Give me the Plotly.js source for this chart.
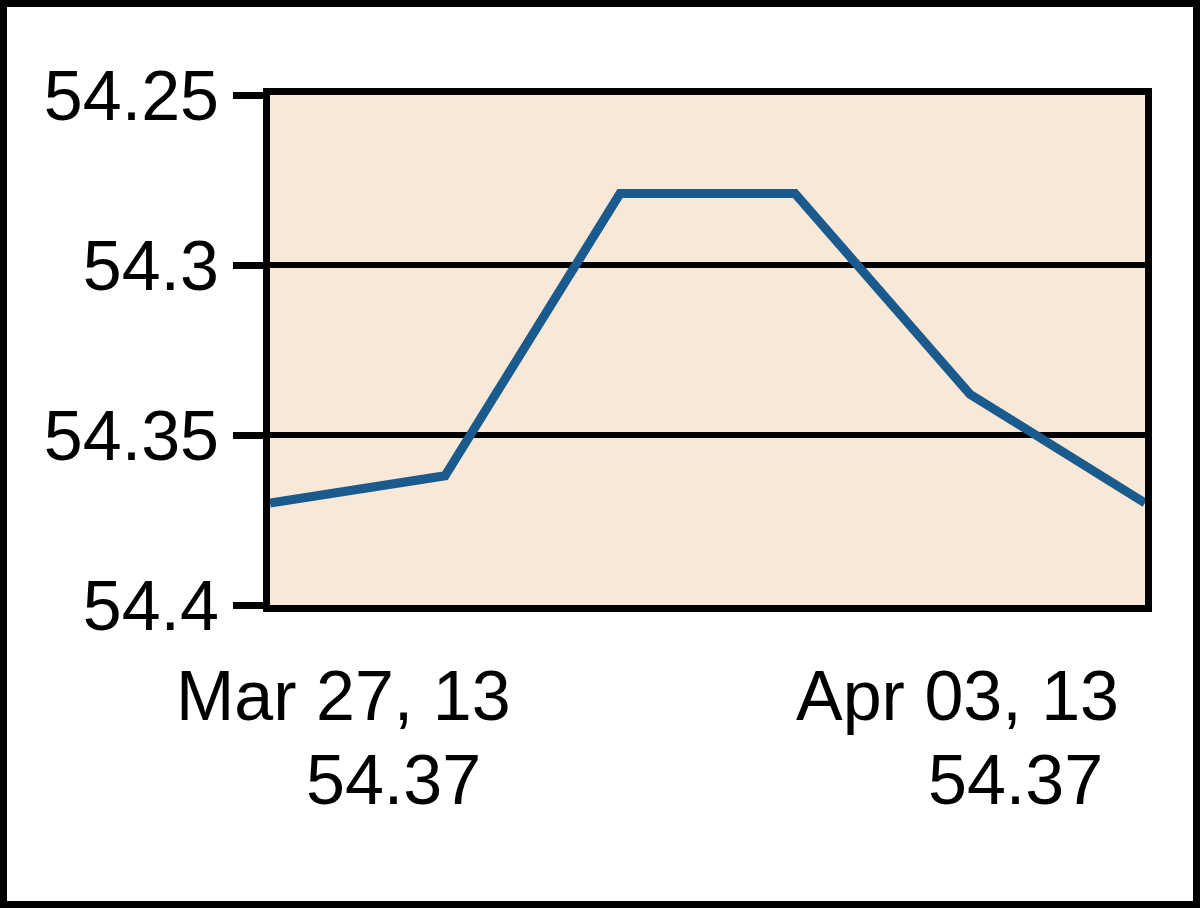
<!DOCTYPE html>
<html>
<head>
<meta charset="utf-8">
<script src="https://cdn.plot.ly/plotly-3.0.1.min.js"></script>
<style>
  html, body { margin: 0; padding: 0; background: #ffffff; }
  #wrap { position: relative; width: 1200px; height: 908px; }
  #chart { position: absolute; left: 0; top: 0; width: 1200px; height: 908px; }
  #frame { position: absolute; left: 0; top: 0; width: 1200px; height: 908px;
           box-sizing: border-box; border: 7px solid #000; pointer-events: none; }
</style>
</head>
<body>
<div id="wrap"><div id="chart"></div><div id="frame"></div></div>
<script>
// Data
const dates = ['Mar 27, 13', 'Mar 28, 13', 'Mar 29, 13', 'Apr 01, 13', 'Apr 02, 13', 'Apr 03, 13'];
const values = [54.37, 54.362, 54.279, 54.279, 54.338, 54.37];
const yTickVals = [54.25, 54.3, 54.35, 54.4];
const yTickText = ['54.25', '54.3', '54.35', '54.4'];
const startLabel = ['Mar 27, 13', '54.37'];
const endLabel = ['Apr 03, 13', '54.37'];

const FONT = 'Liberation Sans, Arial, sans-serif';

const trace = {
  type: 'scatter',
  mode: 'lines',
  x: dates,
  y: values,
  line: { color: '#1a5a8c', width: 9 },
  hoverinfo: 'x+y'
};

const W = 875; // plot width in px for paper-fraction conversion
function px(xp) { return (xp - 270) / W; }

const annotations = [
  { text: startLabel[0], x: px(343), y: 0, yshift: -50, yanchor: 'top', xanchor: 'center' },
  { text: startLabel[1], x: px(393), y: 0, yshift: -134, yanchor: 'top', xanchor: 'center' },
  { text: endLabel[0], x: px(957), y: 0, yshift: -50, yanchor: 'top', xanchor: 'center' },
  { text: endLabel[1], x: px(1015), y: 0, yshift: -134, yanchor: 'top', xanchor: 'center' }
].map(a => Object.assign({
  xref: 'paper', yref: 'paper', showarrow: false,
  font: { family: FONT, size: 70, color: '#000' }
}, a));

const layout = {
  width: 1200,
  height: 908,
  margin: { l: 270, r: 55, t: 95, b: 303 },
  paper_bgcolor: '#ffffff',
  plot_bgcolor: '#f8e8d8',
  showlegend: false,
  xaxis: {
    type: 'category',
    range: [0, dates.length - 1],
    showticklabels: false,
    ticks: '',
    showgrid: false,
    zeroline: false,
    showline: true,
    linecolor: '#000',
    linewidth: 7,
    mirror: true
  },
  yaxis: {
    range: [54.4, 54.25],
    tickvals: yTickVals,
    ticktext: yTickText,
    ticks: 'outside',
    ticklen: 30,
    tickwidth: 7,
    tickcolor: '#000',
    ticklabelstandoff: 0,
    tickfont: { family: FONT, size: 70, color: '#000' },
    showgrid: true,
    gridcolor: '#000',
    gridwidth: 6,
    zeroline: false,
    showline: true,
    linecolor: '#000',
    linewidth: 7,
    mirror: true
  },
  annotations: annotations
};

Plotly.newPlot('chart', [trace], layout, { displayModeBar: false, staticPlot: true });
</script>
</body>
</html>
